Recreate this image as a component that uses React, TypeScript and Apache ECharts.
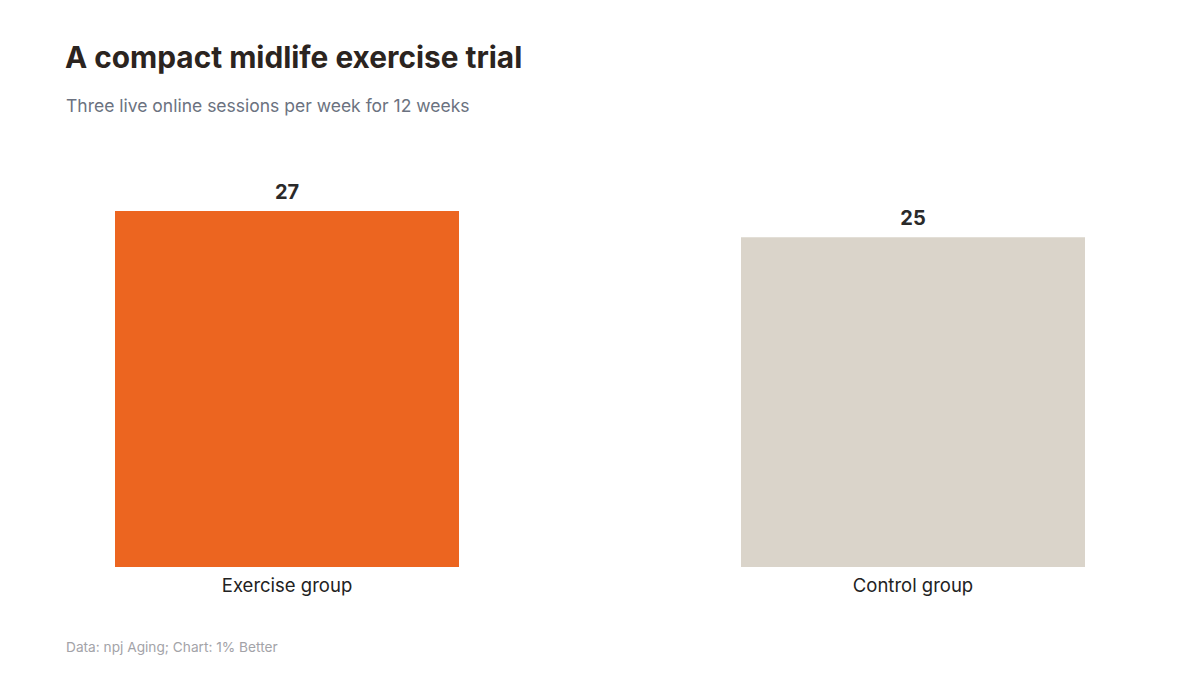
import React, { useEffect, useRef } from "react";
import * as echarts from "echarts";

const categories = ["Exercise group", "Control group"];
const values = [27, 25];
const barColors = ["#EC6520", "#DAD4CA"];

const FONT = "Inter, 'DejaVu Sans', sans-serif";
// the chart div is wider than the page so both category bands line up with the reference
const SHIFT = 26;

const App: React.FC = () => {
  const chartRef = useRef<HTMLDivElement>(null);

  useEffect(() => {
    const chart = echarts.init(chartRef.current!, undefined, { renderer: "svg" });

    const option: echarts.EChartsOption = {
      animation: false,
      backgroundColor: "#ffffff",
      textStyle: { fontFamily: FONT },
      title: [
        {
          text: "A compact midlife exercise trial",
          left: 60 + SHIFT,
          top: 37,
          textStyle: { fontFamily: FONT, fontSize: 29.8, fontWeight: "bold", color: "#2b2420" }
        },
        {
          text: "Three live online sessions per week for 12 weeks",
          left: 61 + SHIFT,
          top: 91,
          textStyle: { fontFamily: FONT, fontSize: 17.5, fontWeight: "normal", color: "#6b7280" }
        },
        {
          text: "Data: npj Aging; Chart: 1% Better",
          left: 61 + SHIFT,
          top: 635,
          textStyle: { fontFamily: FONT, fontSize: 13.7, fontWeight: "normal", color: "#a3a3a8" }
        }
      ],
      grid: { left: 0, right: 0, top: 211, bottom: 108, containLabel: false },
      xAxis: {
        type: "category",
        data: categories,
        axisLine: { show: false },
        axisTick: { show: false },
        axisLabel: { fontFamily: FONT, fontSize: 18.5, color: "#222222", margin: 8 }
      },
      yAxis: {
        type: "value",
        min: 0,
        max: 27,
        show: false,
        splitLine: { show: false }
      },
      series: [
        {
          type: "bar",
          barWidth: 344,
          data: values.map((v, i) => ({ value: v, itemStyle: { color: barColors[i] } })),
          label: {
            show: true,
            position: "top",
            distance: 9,
            fontFamily: FONT,
            fontSize: 20,
            fontWeight: "bold",
            color: "#2a2a2a"
          }
        }
      ]
    };

    chart.setOption(option);

    const handleResize = () => chart.resize();
    window.addEventListener("resize", handleResize);

    return () => {
      window.removeEventListener("resize", handleResize);
      chart.dispose();
    };
  }, []);

  return (
    <div
      style={{
        position: "absolute",
        left: 0,
        top: 0,
        width: "1200px",
        height: "675px",
        overflow: "hidden",
        background: "#ffffff"
      }}
    >
      <div
        ref={chartRef}
        style={{ position: "absolute", left: -SHIFT + "px", top: 0, width: 1200 + 2 * SHIFT + "px", height: "675px" }}
      />
    </div>
  );
};

export default App;
